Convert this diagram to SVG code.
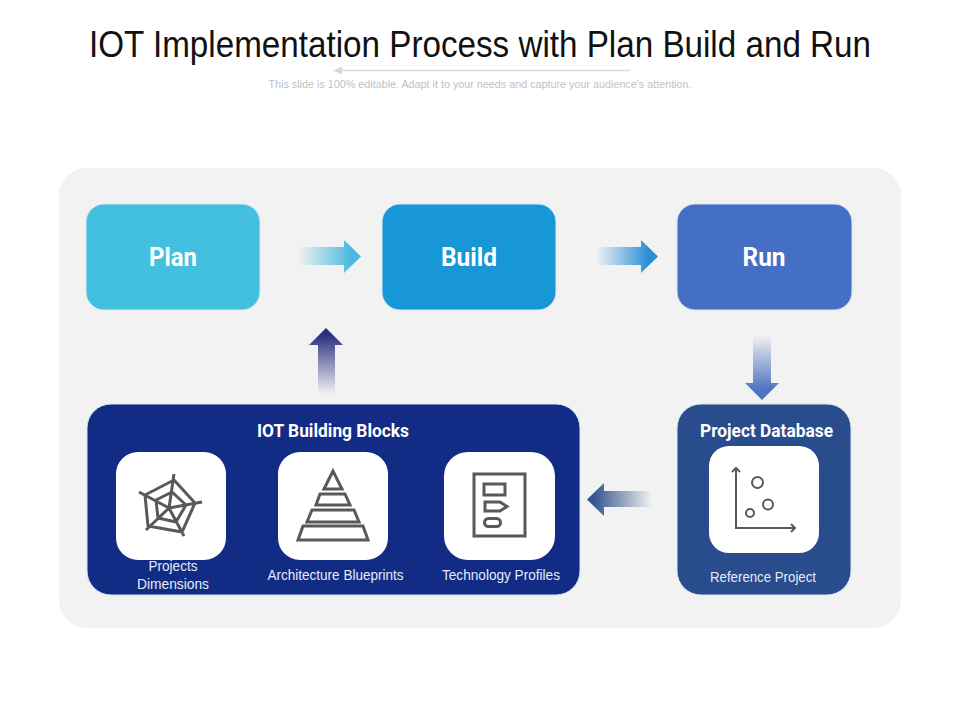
<svg xmlns="http://www.w3.org/2000/svg" width="960" height="720" viewBox="0 0 960 720">
<style>
text{font-family:"Liberation Sans",Arial,sans-serif;text-anchor:middle}
.head{font-family:Roboto,"Liberation Sans",sans-serif;font-weight:700;fill:#fff}
.big{font-size:26px}
.mid{font-size:18px}
.lbl{font-size:14px;fill:#e6ebf7}
.card{fill:#fff}
.box{stroke:#dbe6f4;stroke-width:1}
.ic{fill:none;stroke:#595959;stroke-width:3;stroke-linejoin:miter}
</style>
<defs>
<linearGradient id="g1" gradientUnits="userSpaceOnUse" x1="298" y1="0" x2="361" y2="0"><stop offset="0" stop-color="#4ab9dd" stop-opacity="0"/><stop offset="0.85" stop-color="#4ab9dd"/></linearGradient>
<linearGradient id="g2" gradientUnits="userSpaceOnUse" x1="596" y1="0" x2="658" y2="0"><stop offset="0" stop-color="#2a8fd6" stop-opacity="0"/><stop offset="0.85" stop-color="#2a8fd6"/></linearGradient>
<linearGradient id="g3" gradientUnits="userSpaceOnUse" x1="0" y1="335" x2="0" y2="399"><stop offset="0" stop-color="#4f74c2" stop-opacity="0"/><stop offset="0.85" stop-color="#4f74c2"/></linearGradient>
<linearGradient id="g4" gradientUnits="userSpaceOnUse" x1="652" y1="0" x2="587" y2="0"><stop offset="0" stop-color="#34558f" stop-opacity="0"/><stop offset="0.9" stop-color="#34558f"/></linearGradient>
<linearGradient id="g5" gradientUnits="userSpaceOnUse" x1="0" y1="394" x2="0" y2="328"><stop offset="0" stop-color="#2a2f80" stop-opacity="0"/><stop offset="0.9" stop-color="#2a2f80"/></linearGradient>
</defs>
<rect width="960" height="720" fill="#fff"/>
<g id="title">
<text x="480" y="57" font-size="37" fill="#111" textLength="782" lengthAdjust="spacingAndGlyphs">IOT Implementation Process with Plan Build and Run</text>
<path d="M630 70.500H340" stroke="#d9d9d9" stroke-width="1.500" fill="none"/>
<path d="M333 70.500L342 66.500V74.500Z" fill="#d9d9d9"/>
<text x="480" y="88" font-size="10.500" fill="#bfbfbf" textLength="423" lengthAdjust="spacingAndGlyphs">This slide is 100% editable. Adapt it to your needs and capture your audience's attention.</text>
</g>
<rect id="panel" x="59" y="168" width="842" height="460" rx="28" fill="#f2f2f2"/>
<g id="connectors">
<path d="M298 247H344V240L361 256.500L344 273V265H298Z" fill="url(#g1)"/>
<path d="M596 247H641V240L658 256.500L641 273V265H596Z" fill="url(#g2)"/>
<path d="M753 335H771V383H779L762 400L745 383H753Z" fill="url(#g3)"/>
<path d="M652 491H604V483L587 499.500L604 516V507H652Z" fill="url(#g4)"/>
<path d="M318 394V345H309L326 328L343 345H335V394Z" fill="url(#g5)"/>
</g>
<g id="plan">
<rect class="box" x="86" y="204" width="174" height="106" rx="18" fill="#43c0e0"/>
<text class="head big" x="173" y="266" textLength="48" lengthAdjust="spacingAndGlyphs">Plan</text>
</g>
<g id="build">
<rect class="box" x="382" y="204" width="174" height="106" rx="18" fill="#1897d6"/>
<text class="head big" x="469" y="266" textLength="56" lengthAdjust="spacingAndGlyphs">Build</text>
</g>
<g id="run">
<rect class="box" x="677" y="204" width="175" height="106" rx="18" fill="#446fc4"/>
<text class="head big" x="764" y="266" textLength="43" lengthAdjust="spacingAndGlyphs">Run</text>
</g>
<g id="iot-building-blocks">
<rect class="box" x="87" y="404" width="493" height="191" rx="24" fill="#122b85"/>
<text class="head mid" x="333" y="437" textLength="152" lengthAdjust="spacingAndGlyphs">IOT Building Blocks</text>
</g>
<g id="projects-dimensions">
<rect class="card" x="116" y="452" width="110" height="108" rx="22"/>
<path class="ic" d="M174 480L195 503L182 532L148 526L145 495ZM172 492L186 505L176 522L158 518L156 500ZM174 474L169 508M202 502L169 508M184 536L169 508M146 530L169 508M139 492L169 508"/>
<text class="lbl" x="173" y="571" textLength="49" lengthAdjust="spacingAndGlyphs">Projects</text>
<text class="lbl" x="173" y="589" textLength="72" lengthAdjust="spacingAndGlyphs">Dimensions</text>
</g>
<g id="architecture-blueprints">
<rect class="card" x="278" y="452" width="110" height="108" rx="22"/>
<path class="ic" d="M333 471L324 489H342ZM320 494H345L350 505H316ZM312 510H354L359 522H307ZM303 526H363L368 540H298Z"/>
<text class="lbl" x="335.500" y="580" textLength="136" lengthAdjust="spacingAndGlyphs">Architecture Blueprints</text>
</g>
<g id="technology-profiles">
<rect class="card" x="444" y="452" width="111" height="108" rx="24"/>
<path class="ic" d="M474 474H525V536H474ZM484 484H505V495H484ZM485 502H500L507 506.500L500 511H485Z"/>
<rect class="ic" x="484.500" y="518.500" width="16" height="8" rx="4" stroke-width="4"/>
<text class="lbl" x="501" y="580" textLength="118" lengthAdjust="spacingAndGlyphs">Technology Profiles</text>
</g>
<g id="project-database">
<rect class="box" x="677" y="404" width="174" height="191" rx="24" fill="#284c8c"/>
<text class="head mid" x="766.500" y="437" textLength="133" lengthAdjust="spacingAndGlyphs">Project Database</text>
<rect class="card" x="709" y="446" width="110" height="107" rx="20"/>
<g fill="none" stroke="#595959" stroke-width="2">
<path d="M736 468V528H795M732 472L736 468L740 472M791 524L795 528L791 532"/>
<circle cx="757.500" cy="482.500" r="5.500"/>
<circle cx="768" cy="504.500" r="5"/>
<circle cx="750" cy="513" r="4"/>
</g>
<text class="lbl" x="763" y="582" textLength="106" lengthAdjust="spacingAndGlyphs">Reference Project</text>
</g>
</svg>
